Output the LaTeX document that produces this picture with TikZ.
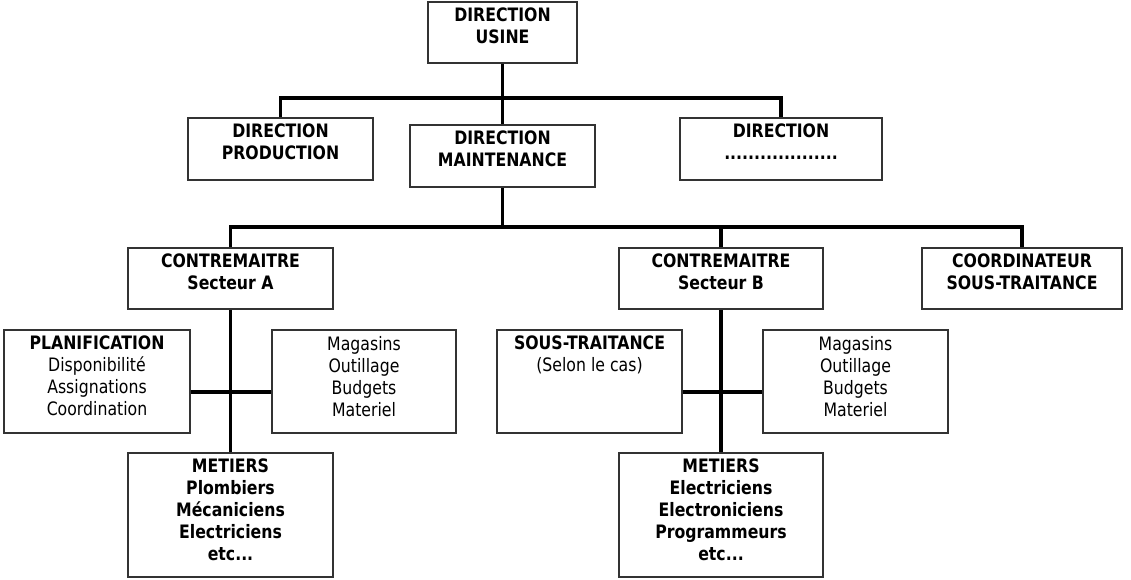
\documentclass[tikz,border=0pt]{standalone}
\usepackage{fontspec}
\setmainfont{DejaVu Sans}[FakeStretch=0.85]
\usetikzlibrary{calc}

% \orgbox{name}{left}{top}{right}{bottom}{text}: a framed box with its text set at the top
\newcommand\orgbox[6]{%
  \node[box, minimum width={#4-#2}, minimum height={#5-#3}]
    (#1) at ({(#2+#4)/2},{(#3+#5)/2}) {};
  \node[lbl] (#1-t) at ({(#2+#4)/2},{#3+6}) {#6};
}

\begin{document}
\begin{tikzpicture}[x=1pt,y=-1pt,
  box/.style={draw=black!80, line width=1.7pt, fill=white, inner sep=0pt},
  lbl/.style={anchor=north, align=center, inner sep=0pt,
              font=\fontsize{18.5}{22}\selectfont},
  conn/.style={draw=black, line width=3.4pt}]

\useasboundingbox[fill=white] (0,0) rectangle (1131,579);

% top management
\orgbox{usine}{428}{2}{577}{63}{\textbf{DIRECTION}\\\textbf{USINE}}
\orgbox{prod}{188}{118}{373}{180}{\textbf{DIRECTION}\\\textbf{PRODUCTION}}
\orgbox{maint}{410}{125}{595}{187}{\textbf{DIRECTION}\\\textbf{MAINTENANCE}}
\orgbox{dirx}{680}{118}{882}{180}{\textbf{DIRECTION}\\\textbf{...................}}

% foremen and coordination
\orgbox{ctA}{128}{248}{333}{309}{\textbf{CONTREMAITRE}\\\textbf{Secteur A}}
\orgbox{ctB}{619}{248}{823}{309}{\textbf{CONTREMAITRE}\\\textbf{Secteur B}}
\orgbox{coord}{922}{248}{1122}{309}{\textbf{COORDINATEUR}\\\textbf{SOUS-TRAITANCE}}

% sector A
\orgbox{planA}{4}{330}{190}{433}{\textbf{PLANIFICATION}\\Disponibilité\\Assignations\\Coordination}
\orgbox{magA}{272}{330}{456}{433}{Magasins\\Outillage\\Budgets\\Materiel}
\orgbox{metA}{128}{453}{333}{577}{\textbf{METIERS}\\\textbf{Plombiers}\\\textbf{Mécaniciens}\\\textbf{Electriciens}\\\textbf{etc...}}

% sector B
\orgbox{stB}{497}{330}{682}{433}{\textbf{SOUS-TRAITANCE}\\(Selon le cas)}
\orgbox{magB}{763}{330}{948}{433}{Magasins\\Outillage\\Budgets\\Materiel}
\orgbox{metB}{619}{453}{823}{577}{\textbf{METIERS}\\\textbf{Electriciens}\\\textbf{Electroniciens}\\\textbf{Programmeurs}\\\textbf{etc...}}

% junction points of the connector bars
\coordinate (j1) at (502.5,98);
\coordinate (j2) at (502.5,227);
\coordinate (xA) at (230.5,392);
\coordinate (xB) at (721,392);

% connectors
\draw[conn] (usine.south) -- (maint.north);
\draw[conn] (prod.north) |- (j1) -| (dirx.north);
\draw[conn] (maint.south) -- (j2);
\draw[conn] (ctA.north) |- (j2) -| (coord.north);
\draw[conn] (ctB.north) -- (ctB.north |- j2);

\draw[conn] (ctA.south) -- (metA.north);
\draw[conn] (planA.east |- xA) -- (magA.west |- xA);
\draw[conn] (ctB.south) -- (metB.north);
\draw[conn] (stB.east |- xB) -- (magB.west |- xB);
\end{tikzpicture}
\end{document}
